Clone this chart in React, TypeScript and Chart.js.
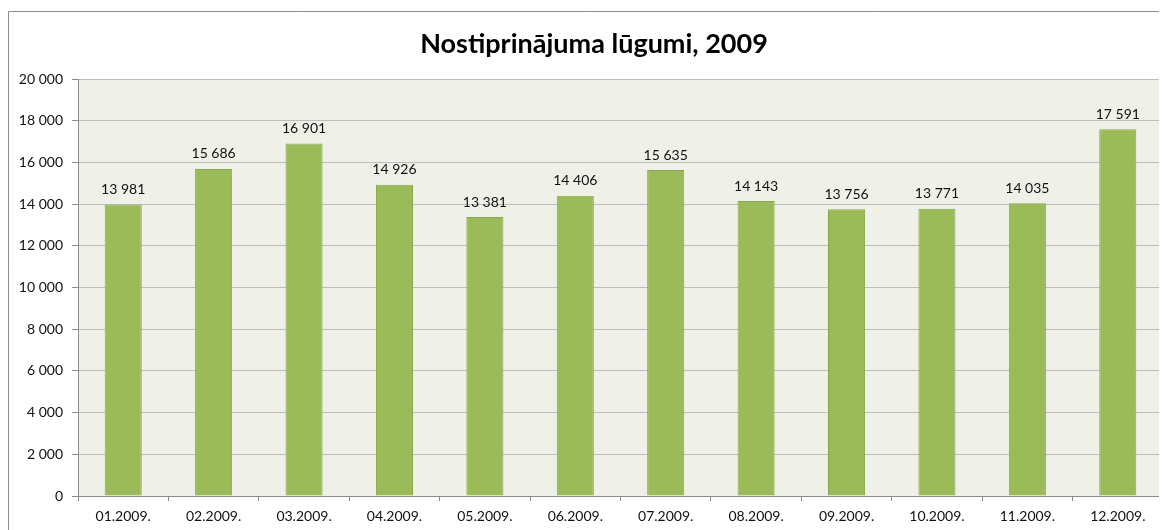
import React, { useEffect, useRef } from "react";
import { Chart, registerables } from "chart.js";

Chart.register(...registerables);

const categories = ["01.2009.", "02.2009.", "03.2009.", "04.2009.", "05.2009.", "06.2009.", "07.2009.", "08.2009.", "09.2009.", "10.2009.", "11.2009.", "12.2009."];
const values = [13981, 15686, 16901, 14926, 13381, 14406, 15635, 14143, 13756, 13771, 14035, 17591];
const chartTitle = "Nostiprinājuma lūgumi, 2009";
const yMin = 0;
const yMax = 20000;
const yStep = 2000;

const FONT = "Lato, 'Noto Sans', sans-serif";

function fmt(v: number): string {
  return String(Math.round(v)).replace(/\B(?=(\d{3})+(?!\d))/g, " ");
}

const bgPlugin = {
  id: "bgPlugin",
  beforeDraw(chart: any) {
    const { ctx, chartArea, width, height } = chart;
    ctx.save();
    ctx.fillStyle = "#ffffff";
    ctx.fillRect(0, 0, width, height);
    ctx.fillStyle = "#EFF1E9";
    ctx.fillRect(chartArea.left, chartArea.top, chartArea.right - chartArea.left, chartArea.bottom - chartArea.top);
    ctx.strokeStyle = "#8C8C8C";
    ctx.lineWidth = 1;
    ctx.beginPath();
    ctx.moveTo(0.5, height);
    ctx.lineTo(0.5, 3.5);
    ctx.lineTo(width, 3.5);
    ctx.stroke();
    // title (centered over the full, wider chart object of the original)
    ctx.fillStyle = "#000000";
    ctx.font = `bold 27px ${FONT}`;
    ctx.textAlign = "center";
    ctx.textBaseline = "middle";
    ctx.fillText(chartTitle, 586, 36);
    ctx.restore();
  },
};

const labelPlugin = {
  id: "labelPlugin",
  afterDatasetsDraw(chart: any) {
    const { ctx } = chart;
    const meta = chart.getDatasetMeta(0);
    ctx.save();
    ctx.fillStyle = "#111111";
    ctx.font = `14px ${FONT}`;
    ctx.textAlign = "center";
    ctx.textBaseline = "middle";
    meta.data.forEach((el: any, i: number) => {
      ctx.fillText(fmt(values[i]), el.x, el.y - 15);
    });
    ctx.restore();
  },
};

export default function App() {
  const ref = useRef<HTMLCanvasElement>(null);
  useEffect(() => {
    if (!ref.current) return;
    const chart = new Chart(ref.current, {
      type: "bar",
      data: {
        labels: categories,
        datasets: [
          {
            data: values,
            backgroundColor: "#9BBB59",
            borderColor: "#86A84A",
            borderWidth: 1,
            barPercentage: 0.41,
            categoryPercentage: 1,
          },
        ],
      },
      options: {
        responsive: false,
        animation: false,
        layout: { padding: { left: 0, right: 4, top: 71, bottom: 0 } },
        plugins: {
          legend: { display: false },
          tooltip: { enabled: false },
          title: { display: false },
        },
        scales: {
          x: {
            grid: {
              offset: true,
              drawOnChartArea: false,
              drawTicks: true,
              tickLength: 5,
              color: "#8C8C8C",
            },
            border: { display: true, color: "#8C8C8C" },
            ticks: {
              color: "#111111",
              font: { family: FONT, size: 14 },
              padding: 7,
              maxRotation: 0,
              autoSkip: false,
            },
            afterFit: (s: any) => {
              s.height = 34;
            },
          },
          y: {
            min: yMin,
            max: yMax,
            grid: {
              color: "#BEBEBE",
              tickLength: 6,
              tickColor: "#8C8C8C",
            },
            border: { display: true, color: "#8C8C8C" },
            ticks: {
              stepSize: yStep,
              color: "#111111",
              font: { family: FONT, size: 14 },
              padding: 9,
              callback: (v: any) => fmt(Number(v)),
            },
            afterFit: (s: any) => {
              s.width = 70;
            },
          },
        },
      },
      plugins: [bgPlugin, labelPlugin],
    });
    return () => chart.destroy();
  }, []);
  return (
    <div style={{ width: 1159, height: 522 }}>
      <canvas ref={ref} width={1159} height={522} style={{ display: "block" }} />
    </div>
  );
}
